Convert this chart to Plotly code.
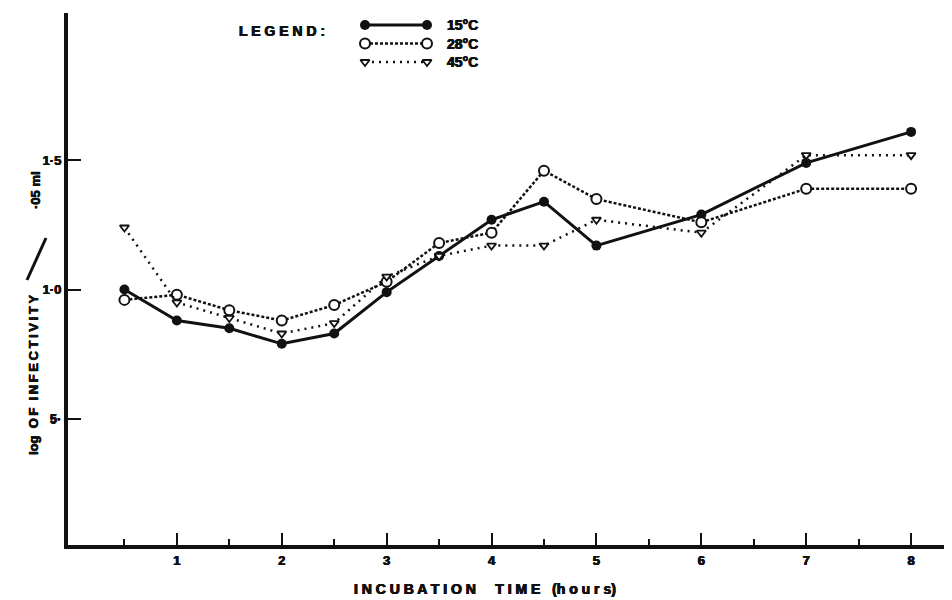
import plotly.graph_objects as go

# ---- data ----
hours = [0.5, 1, 1.5, 2, 2.5, 3, 3.5, 4, 4.5, 5, 6, 7, 8]
log_inf_15 = [1.00, 0.88, 0.85, 0.79, 0.83, 0.99, 1.13, 1.27, 1.34, 1.17, 1.29, 1.49, 1.61]
log_inf_28 = [0.96, 0.98, 0.92, 0.88, 0.94, 1.03, 1.18, 1.22, 1.46, 1.35, 1.26, 1.39, 1.39]
log_inf_45 = [1.24, 0.95, 0.89, 0.83, 0.87, 1.05, 1.13, 1.17, 1.17, 1.27, 1.22, 1.52, 1.52]
series_names = ["15°C", "28°C", "45°C"]
y_tick_vals = [0.5, 1.0, 1.5]
y_tick_text = ["5·", "1·0", "1·5"]
x_tick_vals = [1, 2, 3, 4, 5, 6, 7, 8]
x_tick_text = ["1", "2", "3", "4", "5", "6", "7", "8"]
x_minor_vals = [0.5, 1.5, 2.5, 3.5, 4.5, 5.5, 6.5, 7.5]

FONT = "Liberation Sans"
BLACK = "#111111"
OFF = 8  # page body margin offset of the rendered html
SHADOW = "0.45px 0 0 #111111, -0.45px 0 0 #111111, 0 0.3px 0 #111111"


def bfont(size):
    return dict(family=FONT, size=size, color=BLACK, weight="bold", shadow=SHADOW)


styles = [
    dict(line=dict(color=BLACK, width=3, dash="solid"),
         marker=dict(symbol="circle", size=10, color=BLACK)),
    dict(line=dict(color=BLACK, width=2.5, dash="3px,2px"),
         marker=dict(symbol="circle", size=10, color="white", line=dict(width=2, color=BLACK))),
    dict(line=dict(color=BLACK, width=2.5, dash="2px,5px"),
         marker=dict(symbol="triangle-down", size=8, color="white", line=dict(width=1.8, color=BLACK))),
]

# plot area in screen pixels: left 68, right 952, top 13, bottom 545
L = 68 - OFF
T = 13 - OFF
R = 952 - (952 - OFF)
B = 600 - (545 - OFF)
W, H = 952 - L - R, 600 - T - B


def px(xs):
    return (xs - OFF - L) / W


def py(ys):
    return (600 - B - (ys - OFF)) / H


def spaced(s, sep="\u2009"):
    return sep.join(list(s))


fig = go.Figure()
for name, ys, st in zip(series_names, [log_inf_15, log_inf_28, log_inf_45], styles):
    fig.add_trace(go.Scatter(x=hours, y=ys, mode="lines+markers", name=name,
                             line=st["line"], marker=st["marker"], showlegend=False,
                             cliponaxis=False, xaxis="x", yaxis="y"))

# legend key drawn on a small hidden auxiliary axis
key_x = [0, 1]
for row, (name, st) in enumerate(zip(series_names, styles)):
    fig.add_trace(go.Scatter(x=key_x, y=[row, row], mode="lines+markers",
                             line=st["line"], marker=st["marker"], showlegend=False,
                             cliponaxis=False, xaxis="x2", yaxis="y2", hoverinfo="skip"))
    fig.add_annotation(x=1, y=row, xref="x2", yref="y2", text=name,
                       showarrow=False, xanchor="left", yanchor="middle", xshift=18,
                       font=bfont(14))

fig.add_annotation(x=px(282), y=py(31), xref="paper", yref="paper",
                   text="L E G E N D :", showarrow=False,
                   xanchor="center", yanchor="middle", font=bfont(14))

# y-axis title pieces
fig.add_annotation(x=px(33), y=py(375), xref="paper", yref="paper",
                   text="log\u00a0\u00a0" + spaced("OF") + "\u00a0\u00a0" + spaced("INFECTIVITY"),
                   textangle=-90, showarrow=False, xanchor="center", yanchor="middle",
                   font=bfont(13))
fig.add_annotation(x=px(35), y=py(190), xref="paper", yref="paper",
                   text="·05 ml", textangle=-90, showarrow=False,
                   xanchor="center", yanchor="middle", font=bfont(13))
fig.add_shape(type="line", xref="paper", yref="paper",
              x0=px(27), y0=py(280), x1=px(46), y1=py(238),
              line=dict(color=BLACK, width=3))

# x-axis title
fig.add_annotation(x=px(485), y=py(589), xref="paper", yref="paper",
                   text="I N C U B A T I O N\u00a0\u00a0\u00a0\u00a0\u00a0T I M E\u00a0\u00a0\u00a0(h o u r s)",
                   showarrow=False, xanchor="center", yanchor="middle", font=bfont(14))

fig.update_layout(
    width=952, height=600,
    margin=dict(l=L, r=R, t=T, b=B, autoexpand=False),
    paper_bgcolor="white", plot_bgcolor="white",
    xaxis=dict(range=[-0.038, 8.39], showgrid=False, zeroline=False,
               showline=True, linewidth=4, linecolor=BLACK,
               ticks="inside", ticklen=12, tickwidth=2, tickcolor=BLACK,
               tickvals=x_tick_vals, ticktext=x_tick_text,
               tickfont=bfont(13),
               minor=dict(tickvals=x_minor_vals,
                          ticks="inside", ticklen=6, tickwidth=2, tickcolor=BLACK)),
    yaxis=dict(range=[0.0116, 2.07], showgrid=False, zeroline=False,
               showline=True, linewidth=4, linecolor=BLACK,
               ticks="inside", ticklen=13, tickwidth=2, tickcolor=BLACK,
               tickvals=y_tick_vals, ticktext=y_tick_text,
               tickfont=bfont(13), ticklabelstandoff=0),
    xaxis2=dict(domain=[px(365), px(427)], range=[0, 1], visible=False, anchor="y2"),
    yaxis2=dict(domain=[py(66), py(18)], range=[2.216, -0.378], visible=False, anchor="x2"),
)

fig.write_html("out.html")
